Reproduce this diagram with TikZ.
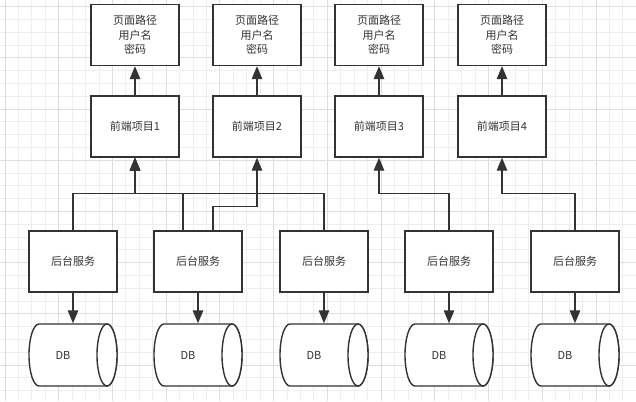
\documentclass[tikz,border=0pt]{standalone}
\usepackage{fontspec}
\newfontfamily\cjkfont{Noto Sans CJK SC}
\usetikzlibrary{arrows.meta}
\definecolor{ink}{HTML}{333333}
\definecolor{gridminor}{HTML}{EEEEEE}
\definecolor{gridmajor}{HTML}{DEDEDE}

\begin{document}
\begin{tikzpicture}[
    x=1pt, y=-1pt,
    txt/.style={font=\cjkfont\fontsize{11pt}{14.4pt}\selectfont, text=ink},
    box/.style={txt, draw=ink, line width=1.4pt, fill=white, minimum width=88pt, minimum height=61pt,
        inner sep=0pt, align=center},
    dbase/.style={minimum width=88pt, minimum height=62pt, inner sep=0pt, outer sep=0.7pt,
        label={[txt, xshift=-10pt]center:DB}},
    dbline/.style={draw=ink, line width=1.4pt, fill=white},
    arr/.style={-{Triangle[length=13pt, width=10.5pt]}, line width=1.4pt, draw=ink},
]

% Canvas and grid
\useasboundingbox (0,0) rectangle (636,401);
\fill[white] (0,0) rectangle (636,401);
\foreach \i in {0,...,47} {
    \draw[gridminor, line width=0.8pt] ({5+13.43*\i},0) -- ({5+13.43*\i},401);
}
\foreach \j in {0,...,31} {
    \draw[gridminor, line width=0.8pt] (0,{6.6+12.8*\j}) -- (636,{6.6+12.8*\j});
}
\foreach \i in {0,...,11} {
    \draw[gridmajor, line width=0.8pt] ({5+53.72*\i},0) -- ({5+53.72*\i},401);
}
\foreach \j in {0,...,7} {
    \draw[gridmajor, line width=0.8pt] (0,{6.6+51.2*\j}) -- (636,{6.6+51.2*\j});
}

% Page info
\node[box] (info1) at (135,35) {页面路径\\用户名\\密码};
\node[box] (info2) at (257,35) {页面路径\\用户名\\密码};
\node[box] (info3) at (379,35) {页面路径\\用户名\\密码};
\node[box] (info4) at (502,35) {页面路径\\用户名\\密码};

% Front-end projects
\node[box] (fe1) at (135,126.5) {前端项目1};
\node[box] (fe2) at (257,126.5) {前端项目2};
\node[box] (fe3) at (379,126.5) {前端项目3};
\node[box] (fe4) at (502,126.5) {前端项目4};

% Back-end services
\node[box] (srvA) at (73,261.5) {后台服务};
\node[box] (srvB) at (198,261.5) {后台服务};
\node[box] (srvC) at (324,261.5) {后台服务};
\node[box] (srvD) at (449,261.5) {后台服务};
\node[box] (srvE) at (575,261.5) {后台服务};

% Databases (cylinder outline drawn round each node)
\foreach \s/\x in {A/73,B/198,C/324,D/449,E/575} {
    \draw[dbline] (\x+34,324) -- (\x-34,324)
        arc[start angle=90, end angle=270, x radius=10pt, y radius=31pt]
        -- (\x+34,386)
        arc[start angle=-90, end angle=90, x radius=10pt, y radius=31pt];
    \draw[dbline] (\x+34,355) ellipse[x radius=10pt, y radius=31pt];
    \node[dbase] (db\s) at (\x,355) {};
}

% Front-end to page info
\foreach \n in {1,2,3,4} {
    \draw[arr] (fe\n.north) -- (info\n.south);
}

% Services to front-ends
\draw[arr] (srvA.north) -- ++(0,-37) -| (fe1.south);
\draw[arr] ([xshift=-15pt]srvB.north) -- ++(0,-37) -| (fe1.south);
\draw[arr] (srvC.north) -- ++(0,-37) -| (fe1.south);
\draw[arr] ([xshift=15pt]srvB.north) -- ++(0,-24) -| (fe2.south);
\draw[arr] (srvD.north) -- ++(0,-37) -| (fe3.south);
\draw[arr] (srvE.north) -- ++(0,-37) -| (fe4.south);

% Services to databases
\foreach \s in {A,B,C,D,E} {
    \draw[arr] (srv\s.south) -- (db\s.north);
}

\end{tikzpicture}
\end{document}
